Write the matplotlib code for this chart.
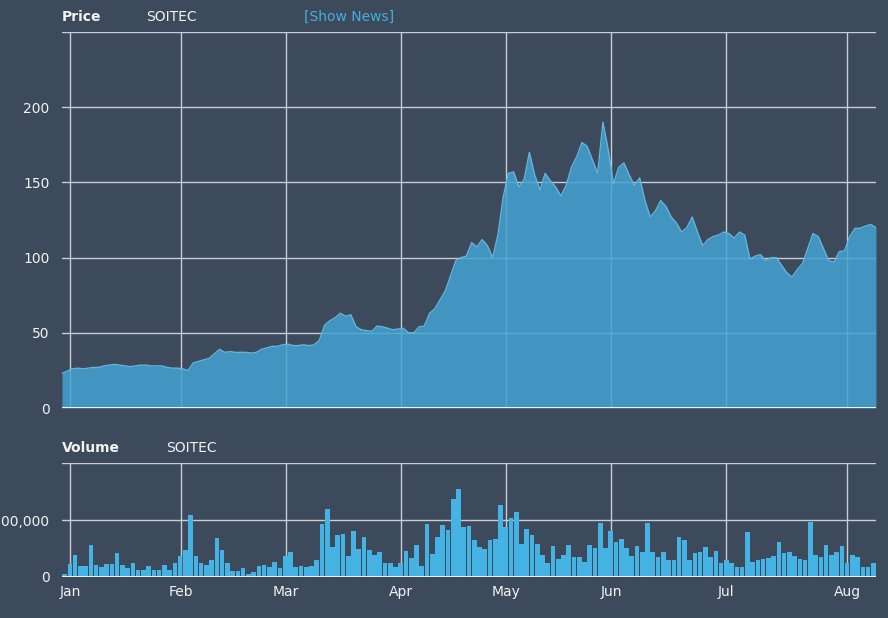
import matplotlib
matplotlib.use("Agg")
import matplotlib.pyplot as plt
from matplotlib.ticker import FuncFormatter

# ---- data (trading-day index) ----
price = [23, 24.5, 26, 26.5, 26, 26.5, 27, 27, 28, 28.5,
         29, 28.5, 28, 27.5, 28, 28.5, 28.5, 28, 28, 28,
         27, 26.5, 26.5, 26, 25, 30, 31, 32, 33, 36,
         39, 37, 37.5, 37, 37, 37, 36.5, 37, 39, 40,
         41, 41, 42, 42.5, 41.5, 41.5, 42, 41.5, 42, 45,
         55, 58, 60, 63, 61, 62, 54, 52, 51.5, 51,
         54.5, 54, 53, 52, 52.5, 53, 50, 50, 54, 54.5,
         63, 66, 72, 78, 88, 98, 100, 101, 110, 107,
         112, 108, 100, 115, 140, 156, 157, 147, 152, 170,
         155, 145, 156, 151, 147, 141, 148, 160, 167, 176.5,
         174, 165, 156, 190, 172, 149, 160, 163, 155, 148,
         153, 138, 127, 131, 138, 134, 127, 123, 117, 120,
         127, 117, 108, 112, 114, 115, 117, 116, 113, 117,
         115, 99, 101, 102, 98, 100, 100, 95, 90, 87,
         92, 96, 106, 116, 114, 106, 98, 97, 104, 104.5,
         114, 119.5, 119.5, 121, 122, 120]

volume_m = [0.06, 0.23, 0.39, 0.19, 0.19, 0.57, 0.21, 0.17, 0.22, 0.22,
            0.42, 0.21, 0.15, 0.24, 0.13, 0.13, 0.19, 0.13, 0.13, 0.21,
            0.13, 0.24, 0.37, 0.48, 1.09, 0.37, 0.24, 0.21, 0.30, 0.69,
            0.48, 0.25, 0.11, 0.11, 0.15, 0.06, 0.08, 0.19, 0.21, 0.17,
            0.27, 0.15, 0.37, 0.43, 0.17, 0.19, 0.17, 0.19, 0.30, 0.93,
            1.20, 0.52, 0.73, 0.75, 0.36, 0.80, 0.50, 0.70, 0.48, 0.39,
            0.43, 0.25, 0.25, 0.17, 0.25, 0.46, 0.33, 0.57, 0.19, 0.93,
            0.41, 0.71, 0.92, 0.83, 1.37, 1.55, 0.88, 0.90, 0.65, 0.52,
            0.49, 0.65, 0.67, 1.26, 0.88, 1.03, 1.14, 0.58, 0.85, 0.74,
            0.58, 0.39, 0.25, 0.55, 0.31, 0.39, 0.57, 0.35, 0.35, 0.27,
            0.57, 0.51, 0.94, 0.51, 0.80, 0.61, 0.67, 0.51, 0.36, 0.55,
            0.43, 0.94, 0.43, 0.35, 0.43, 0.29, 0.30, 0.70, 0.65, 0.30,
            0.42, 0.43, 0.52, 0.35, 0.46, 0.24, 0.30, 0.25, 0.18, 0.18,
            0.79, 0.27, 0.30, 0.31, 0.33, 0.37, 0.61, 0.42, 0.43, 0.37,
            0.31, 0.29, 0.97, 0.39, 0.35, 0.57, 0.39, 0.43, 0.55, 0.24,
            0.39, 0.35, 0.18, 0.18, 0.24]

month_labels = ["Jan", "Feb", "Mar", "Apr", "May", "Jun", "Jul", "Aug"]
month_pos = [1.5, 22.7, 42.7, 64.6, 84.6, 104.6, 126.5, 149.5]

price_ticks = [0, 50, 100, 150, 200, 250]
price_ticklabels = ["0", "50", "100", "150", "200", ""]
vol_ticks = [0, 1_000_000, 2_000_000]
vol_ticklabels = ["0", "1,000,000", ""]

# ---- style ----
BG = "#3c4a5c"
GRID = "#c9cdd3"
TXT = "#f2f2f2"
FILL = (66/255, 163/255, 210/255)
BAR = "#45b4e4"

plt.rcParams["font.family"] = ["DejaVu Sans"]
fig = plt.figure(figsize=(8.88, 6.18), dpi=100, facecolor=BG)

W, H = 888, 618
def rect(x0, y0, x1, y1):
    return [x0 / W, 1 - y1 / H, (x1 - x0) / W, (y1 - y0) / H]

ax1 = fig.add_axes(rect(62, 32, 876, 408))
ax2 = fig.add_axes(rect(62, 463, 876, 577))

xmin, xmax = 0, 155.0

for ax in (ax1, ax2):
    ax.set_facecolor(BG)
    for s in ax.spines.values():
        s.set_visible(False)
    ax.set_xlim(xmin, xmax)
    ax.tick_params(length=0, colors=TXT, labelsize=10)
    ax.set_axisbelow(True)
    ax.set_xticks(month_pos)
    ax.grid(True, color=GRID, linewidth=1.0, zorder=0)

# price panel
xs = list(range(len(price)))
ax1.fill_between(xs, 0, price, color=FILL, alpha=0.85, linewidth=0, zorder=2)
ax1.plot(xs, price, color="#62b4dc", linewidth=1.0, zorder=3)
ax1.set_ylim(0, 250)
ax1.set_yticks(price_ticks)
ax1.set_yticklabels(price_ticklabels)
ax1.set_xticklabels([])
ax1.axhline(0, color="white", linewidth=2, zorder=4)
ax1.tick_params(axis="y", pad=9)

# volume panel
vx = [i + 0.5 for i in range(len(volume_m))]
vol = [v * 1_000_000 for v in volume_m]
ax2.bar(vx, vol, width=0.88, color=BAR, linewidth=0, zorder=2)
ax2.set_ylim(0, 2_000_000)
ax2.set_yticks(vol_ticks)
ax2.set_yticklabels(vol_ticklabels)
ax2.set_xticklabels(month_labels)
ax2.axhline(0, color="white", linewidth=2, zorder=4)
ax2.tick_params(axis="y", pad=9)
ax2.tick_params(axis="x", pad=6)

# headers
fig.text(62 / W, 1 - 17 / H, "Price", color=TXT, fontsize=10, fontweight="bold", va="center", ha="left")
fig.text(146 / W, 1 - 17 / H, "SOITEC", color=TXT, fontsize=10, va="center", ha="left")
fig.text(304 / W, 1 - 17 / H, "[Show News]", color="#45aee0", fontsize=10, va="center", ha="left")
fig.text(62 / W, 1 - 448 / H, "Volume", color=TXT, fontsize=10, fontweight="bold", va="center", ha="left")
fig.text(166 / W, 1 - 448 / H, "SOITEC", color=TXT, fontsize=10, va="center", ha="left")

fig.savefig("out.png", dpi=100, facecolor=BG)
